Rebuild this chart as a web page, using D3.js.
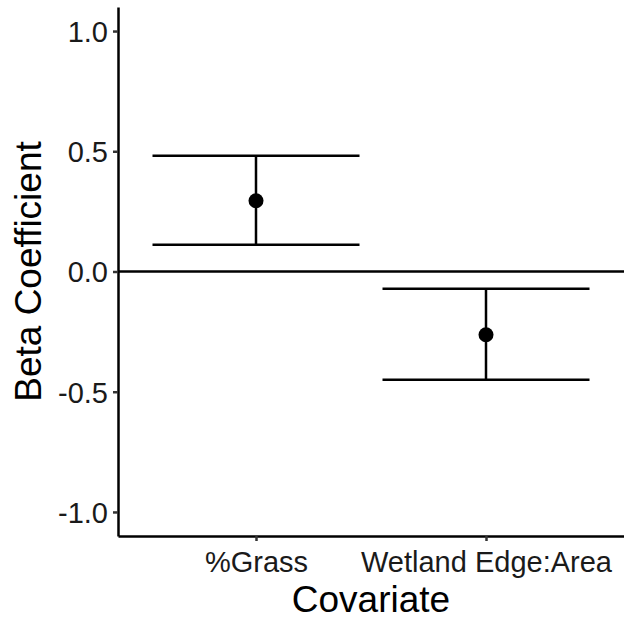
<!DOCTYPE html>
<html>
<head>
<meta charset="utf-8">
<script src="https://cdn.jsdelivr.net/npm/d3@7"></script>
<style>
  body { margin: 0; background: #fff; }
  svg { display: block; font-family: "Liberation Sans", Arial, sans-serif; }
</style>
</head>
<body>
<div id="chart"></div>
<script>
// covariates and their estimates
const covariates = ["%Grass", "Wetland Edge:Area"];
const estimates = [0.294, -0.263];
const lowerCI = [0.111, -0.450];
const upperCI = [0.481, -0.072];
const yTicks = [-1.0, -0.5, 0.0, 0.5, 1.0];

const width = 624, height = 620;
const margin = { top: 7, right: 0, bottom: 84, left: 118 };
const lw = 2.5;

const svg = d3.select("#chart").append("svg")
  .attr("width", width)
  .attr("height", height);

const x = d3.scalePoint()
  .domain(covariates)
  .range([margin.left, width - margin.right])
  .padding(0.6);

const y = d3.scaleLinear()
  .domain([-1.1, 1.1])
  .range([height - margin.bottom, margin.top]);

const barW = x.step() * 0.9;

const data = covariates.map((c, i) => ({
  name: c, est: estimates[i], lo: lowerCI[i], hi: upperCI[i]
}));

// zero line
svg.append("line")
  .attr("x1", margin.left).attr("x2", width - margin.right)
  .attr("y1", y(0)).attr("y2", y(0))
  .attr("stroke", "#000").attr("stroke-width", lw);

// error bars
const g = svg.append("g").attr("class", "bars");
const bars = g.selectAll("g").data(data).enter().append("g");

bars.append("line")
  .attr("x1", d => x(d.name)).attr("x2", d => x(d.name))
  .attr("y1", d => y(d.hi)).attr("y2", d => y(d.lo))
  .attr("stroke", "#000").attr("stroke-width", lw);

bars.append("line")
  .attr("x1", d => x(d.name) - barW / 2).attr("x2", d => x(d.name) + barW / 2)
  .attr("y1", d => y(d.hi)).attr("y2", d => y(d.hi))
  .attr("stroke", "#000").attr("stroke-width", lw);

bars.append("line")
  .attr("x1", d => x(d.name) - barW / 2).attr("x2", d => x(d.name) + barW / 2)
  .attr("y1", d => y(d.lo)).attr("y2", d => y(d.lo))
  .attr("stroke", "#000").attr("stroke-width", lw);

bars.append("circle")
  .attr("cx", d => x(d.name))
  .attr("cy", d => y(d.est))
  .attr("r", 7.5)
  .attr("fill", "#000");

// axes
const fmt = d => d3.format(".1f")(d).replace("−", "-");
const yAxis = svg.append("g")
  .attr("transform", `translate(${margin.left},0)`)
  .call(d3.axisLeft(y).tickValues(yTicks).tickFormat(fmt).tickSizeInner(5).tickSizeOuter(0).tickPadding(5));

const xAxis = svg.append("g")
  .attr("transform", `translate(0,${height - margin.bottom})`)
  .call(d3.axisBottom(x).tickSizeInner(5).tickSizeOuter(0).tickPadding(6));

[yAxis, xAxis].forEach(a => {
  a.select(".domain").attr("stroke", "#000").attr("stroke-width", lw);
  a.selectAll(".tick line").attr("stroke", "#333").attr("stroke-width", lw);
  a.selectAll(".tick text").attr("fill", "#1a1a1a").style("font-size", "29px");
});
xAxis.selectAll(".tick text").attr("dy", "0.85em");
yAxis.selectAll(".tick text").attr("dy", "0.36em");

// titles
svg.append("text")
  .attr("x", (margin.left + width) / 2)
  .attr("y", 612)
  .attr("text-anchor", "middle")
  .style("font-size", "37px")
  .text("Covariate");

svg.append("text")
  .attr("transform", `translate(41,${y(0)}) rotate(-90)`)
  .attr("text-anchor", "middle")
  .style("font-size", "37px")
  .text("Beta Coefficient");
</script>
</body>
</html>
